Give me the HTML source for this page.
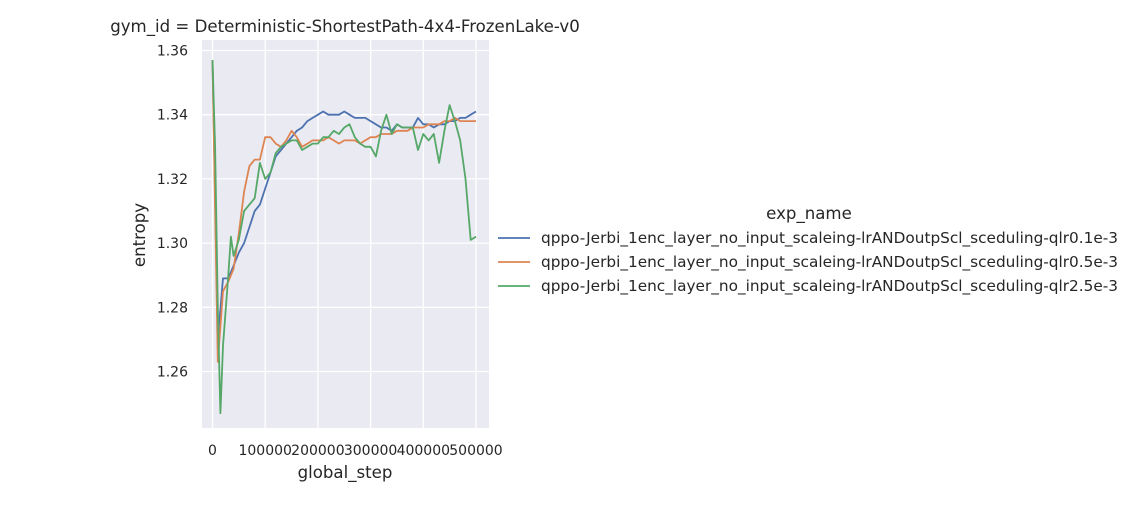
<!DOCTYPE html>
<html><head><meta charset="utf-8"><style>
body{margin:0;background:#fff;}
svg{font-family:"DejaVu Sans","Liberation Sans",sans-serif;}
</style></head><body>
<svg id="c" width="1132" height="500" xmlns="http://www.w3.org/2000/svg"></svg>
<script>
const steps=[0,10000,20000,30000,40000,50000,60000,70000,80000,90000,100000,110000,120000,130000,140000,150000,160000,170000,180000,190000,200000,210000,220000,230000,240000,250000,260000,270000,280000,290000,300000,310000,320000,330000,340000,350000,360000,370000,380000,390000,400000,410000,420000,430000,440000,450000,460000,470000,480000,490000,500000];
const blue=[1.357,1.27,1.289,1.289,1.293,1.297,1.300,1.305,1.310,1.312,1.317,1.322,1.327,1.329,1.331,1.333,1.335,1.336,1.338,1.339,1.340,1.341,1.340,1.340,1.340,1.341,1.340,1.339,1.339,1.339,1.338,1.337,1.336,1.336,1.335,1.337,1.336,1.336,1.336,1.339,1.337,1.337,1.336,1.337,1.337,1.338,1.338,1.339,1.339,1.340,1.341];
const orange=[1.357,1.263,1.285,1.288,1.292,1.303,1.316,1.324,1.326,1.326,1.333,1.333,1.331,1.330,1.332,1.335,1.333,1.330,1.331,1.332,1.332,1.332,1.333,1.332,1.331,1.332,1.332,1.332,1.331,1.332,1.333,1.333,1.334,1.334,1.334,1.335,1.335,1.335,1.336,1.336,1.336,1.337,1.337,1.337,1.338,1.338,1.339,1.338,1.338,1.338,1.338];
const greenSteps=[0,5000,10000,15000,20000,30000,35000,40000,50000,60000,70000,80000,90000,100000,110000,120000,130000,140000,150000,160000,170000,180000,190000,200000,210000,220000,230000,240000,250000,260000,270000,280000,290000,300000,310000,320000,330000,340000,350000,360000,370000,380000,390000,400000,410000,420000,430000,440000,450000,460000,470000,480000,490000,500000];
const green=[1.357,1.33,1.28,1.247,1.268,1.290,1.302,1.296,1.301,1.310,1.312,1.314,1.325,1.320,1.322,1.328,1.330,1.331,1.332,1.332,1.329,1.330,1.331,1.331,1.333,1.333,1.335,1.334,1.336,1.337,1.333,1.331,1.330,1.330,1.327,1.335,1.340,1.334,1.337,1.336,1.336,1.336,1.329,1.334,1.332,1.334,1.325,1.335,1.343,1.338,1.332,1.320,1.301,1.302];
const xTicks=[0,100000,200000,300000,400000,500000];
const yTicks=[1.26,1.28,1.30,1.32,1.34,1.36];
const names=["qppo-Jerbi_1enc_layer_no_input_scaleing-lrANDoutpScl_sceduling-qlr0.1e-3","qppo-Jerbi_1enc_layer_no_input_scaleing-lrANDoutpScl_sceduling-qlr0.5e-3","qppo-Jerbi_1enc_layer_no_input_scaleing-lrANDoutpScl_sceduling-qlr2.5e-3"];
const colors=["#4c72b0","#dd8452","#55a868"];
const X=v=>212.5+v/100000*52.7;
const Y=v=>50.5+(1.36-v)*3210;
const svg=document.getElementById('c');
const NS="http://www.w3.org/2000/svg";
function mk(t,a,p){const e=document.createElementNS(NS,t);for(const k in a)e.setAttribute(k,a[k]);(p||svg).appendChild(e);return e;}
const bg=mk('rect',{x:202,y:40,width:287,height:388,fill:'#eaeaf2'});


xTicks.forEach(t=>{const l=mk('line',{x1:X(t),x2:X(t),y1:40,y2:428,stroke:'#fff','stroke-width':1.3});


const tx=mk('text',{x:X(t),y:455,'text-anchor':'middle','font-size':14,fill:'#262626'});tx.textContent=t;

});
yTicks.forEach(t=>{const l=mk('line',{x1:202,x2:489,y1:Y(t),y2:Y(t),stroke:'#fff','stroke-width':1.3});


const tx=mk('text',{x:188,y:Y(t)+5,'text-anchor':'end','font-size':14,fill:'#262626'});tx.textContent=t.toFixed(2);

});
const series=[[steps,blue],[steps,orange],[greenSteps,green]];
series.forEach((s,i)=>{const d=s[0].map((x,j)=>(j?'L':'M')+X(x).toFixed(1)+','+Y(s[1][j]).toFixed(1)).join('');
const p=mk('path',{d:d,fill:'none',stroke:colors[i],'stroke-width':1.8,'stroke-linejoin':'round'});

});
const tt=mk('text',{x:345,y:32,'text-anchor':'middle','font-size':16.6,fill:'#262626'});tt.textContent='gym_id = Deterministic-ShortestPath-4x4-FrozenLake-v0';


const xt=mk('text',{x:345,y:478,'text-anchor':'middle','font-size':16.6,fill:'#262626'});xt.textContent='global_step';


const yt=mk('text',{x:0,y:0,'text-anchor':'middle','font-size':16.6,fill:'#262626',transform:'translate(145,235) rotate(-90)'});yt.textContent='entropy';


const lt=mk('text',{x:809,y:219,'text-anchor':'middle','font-size':16.6,fill:'#262626'});lt.textContent='exp_name';


names.forEach((n,i)=>{const g=mk('g',{});


const yy=238+i*24;mk('line',{x1:498,x2:530,y1:yy,y2:yy,stroke:colors[i],'stroke-width':1.8},g);
const t=mk('text',{x:541,y:yy+5,'font-size':15.3,fill:'#262626'},g);t.textContent=n;});
</script>
</body></html>
